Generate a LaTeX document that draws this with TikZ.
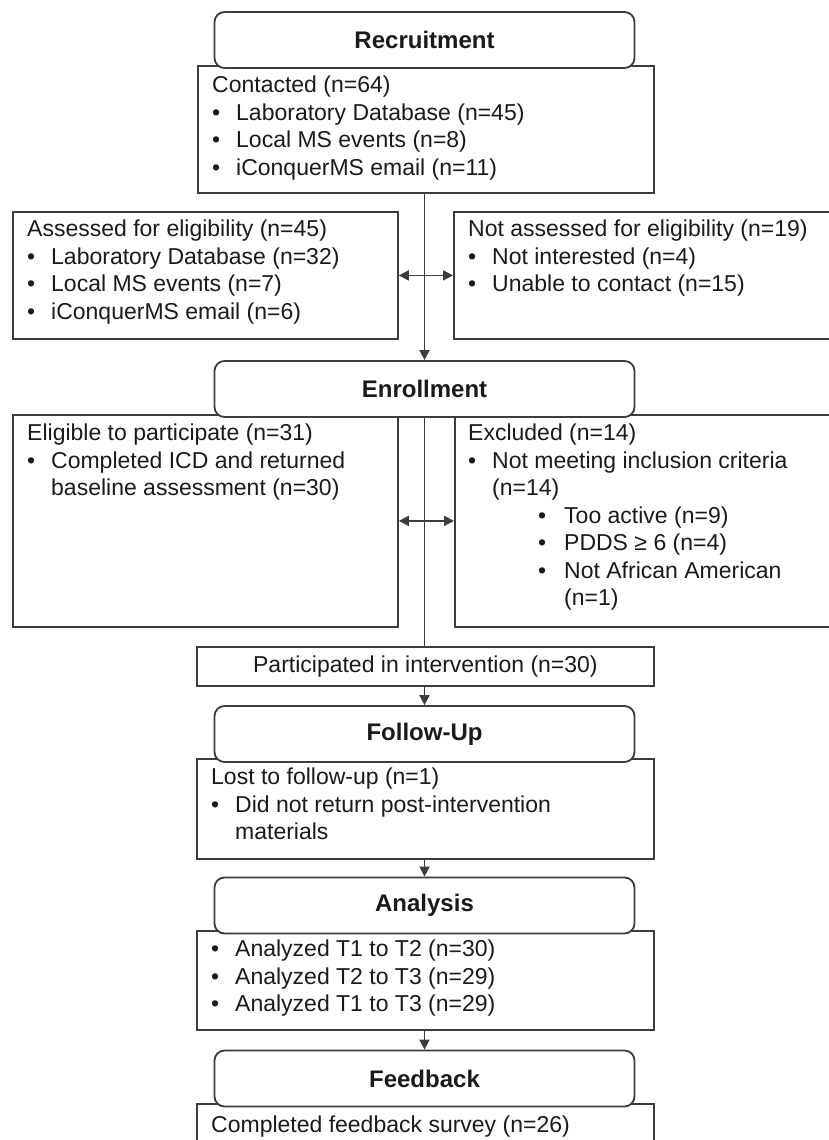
\documentclass[tikz,border=0pt]{standalone}
\usepackage{fontspec}
\setmainfont{Liberation Sans}
\usetikzlibrary{arrows.meta}

\definecolor{linegray}{HTML}{3C3C3C}
\definecolor{textgray}{HTML}{1A1A1A}

\newcommand{\itembul}{\makebox[24pt][l]{\textbullet}}
\newcommand{\subbul}{\hspace*{70pt}\makebox[26pt][l]{\textbullet}}

\tikzset{
  stage/.style={draw=linegray, line width=1.8pt, rounded corners=10pt, fill=white,
    minimum width=420pt, minimum height=56pt, inner sep=0pt, text=textgray,
    font=\fontsize{24}{28}\selectfont\bfseries},
  frame/.style={draw=linegray, line width=1.8pt, anchor=north west, inner sep=0pt},
  txt/.style={anchor=north west, align=left, inner sep=0pt, text=textgray,
    font=\fontsize{23}{27.5}\selectfont, execute at begin node={\rule{0pt}{20pt}}},
  conn/.style={draw=linegray, line width=1.8pt},
  arr/.style={conn, -{Triangle[length=10pt,width=10pt]}},
  darr/.style={conn, {Triangle[length=10pt,width=10pt]}-{Triangle[length=10pt,width=10pt]}}
}

\begin{document}
\begin{tikzpicture}[x=1pt,y=-1pt]
\useasboundingbox (0,0) rectangle (828,1140);

% Frames
\node[frame, minimum width=456pt, minimum height=127pt] (contacted) at (197,65) {};
\node[frame, minimum width=385pt, minimum height=127pt] (assessed) at (12,211) {};
\node[frame, minimum width=390pt, minimum height=127pt] (notassess) at (453,211) {};
\node[frame, minimum width=385pt, minimum height=212pt] (eligible) at (12,414) {};
\node[frame, minimum width=390pt, minimum height=212pt] (excluded) at (454,414) {};
\node[frame, minimum width=457pt, minimum height=39pt, text=textgray,
  font=\fontsize{23}{27.5}\selectfont] (particip) at (196,646) {Participated in intervention (n=30)};
\node[frame, minimum width=457pt, minimum height=100pt] (lost) at (196,758) {};
\node[frame, minimum width=457pt, minimum height=99pt] (analyzed) at (196,930) {};
\node[frame, minimum width=457pt, minimum height=60pt] (completed) at (196,1103) {};

% Stages
\node[stage] (recruit) at (424.5,40) {Recruitment};
\node[stage] (enroll) at (424.5,389) {Enrollment};
\node[stage] (followup) at (424.5,734) {Follow-Up};
\node[stage] (analysis) at (424.5,905.5) {Analysis};
\node[stage] (feedback) at (424.5,1078.5) {Feedback};

% Box texts
\node[txt] (contactedtxt) at ([shift={(15,11)}]contacted.north west)
  {Contacted (n=64)\\ \itembul Laboratory Database (n=45)\\ \itembul Local MS events (n=8)\\ \itembul iConquerMS email (n=11)};
\node[txt] (assessedtxt) at ([shift={(15,9)}]assessed.north west)
  {Assessed for eligibility (n=45)\\ \itembul Laboratory Database (n=32)\\ \itembul Local MS events (n=7)\\ \itembul iConquerMS email (n=6)};
\node[txt] (notassesstxt) at ([shift={(15,9)}]notassess.north west)
  {Not assessed for eligibility (n=19)\\ \itembul Not interested (n=4)\\ \itembul Unable to contact (n=15)};
\node[txt] (eligibletxt) at ([shift={(15,10)}]eligible.north west)
  {Eligible to participate (n=31)\\ \itembul Completed ICD and returned\\ \hspace*{24pt}baseline assessment (n=30)};
\node[txt] (excludedtxt) at ([shift={(14,10)}]excluded.north west)
  {Excluded (n=14)\\ \itembul Not meeting inclusion criteria\\ \hspace*{24pt}(n=14)\\
   \subbul Too active (n=9)\\ \subbul PDDS ≥ 6 (n=4)\\ \subbul Not African American\\ \hspace*{96pt}(n=1)};
\node[txt] (losttxt) at ([shift={(15,10)}]lost.north west)
  {Lost to follow-up (n=1)\\ \itembul Did not return post-intervention\\ \hspace*{24pt}materials};
\node[txt] (analyzedtxt) at ([shift={(15,10)}]analyzed.north west)
  {\itembul Analyzed T1 to T2 (n=30)\\ \itembul Analyzed T2 to T3 (n=29)\\ \itembul Analyzed T1 to T3 (n=29)};
\node[txt] (completedtxt) at ([shift={(15,9)}]completed.north west)
  {Completed feedback survey (n=26)};

% Connectors
\foreach \a/\b in {contacted/enroll, particip/followup, lost/analysis, analyzed/feedback}
  \draw[arr] (\b.north |- \a.south) -- (\b.north);
\draw[conn] (enroll.south) -- (enroll.south |- particip.north);
\draw[darr] (assessed.east) -- (notassess.west);
\draw[darr] (eligible.east) -- (excluded.west);

\end{tikzpicture}
\end{document}
